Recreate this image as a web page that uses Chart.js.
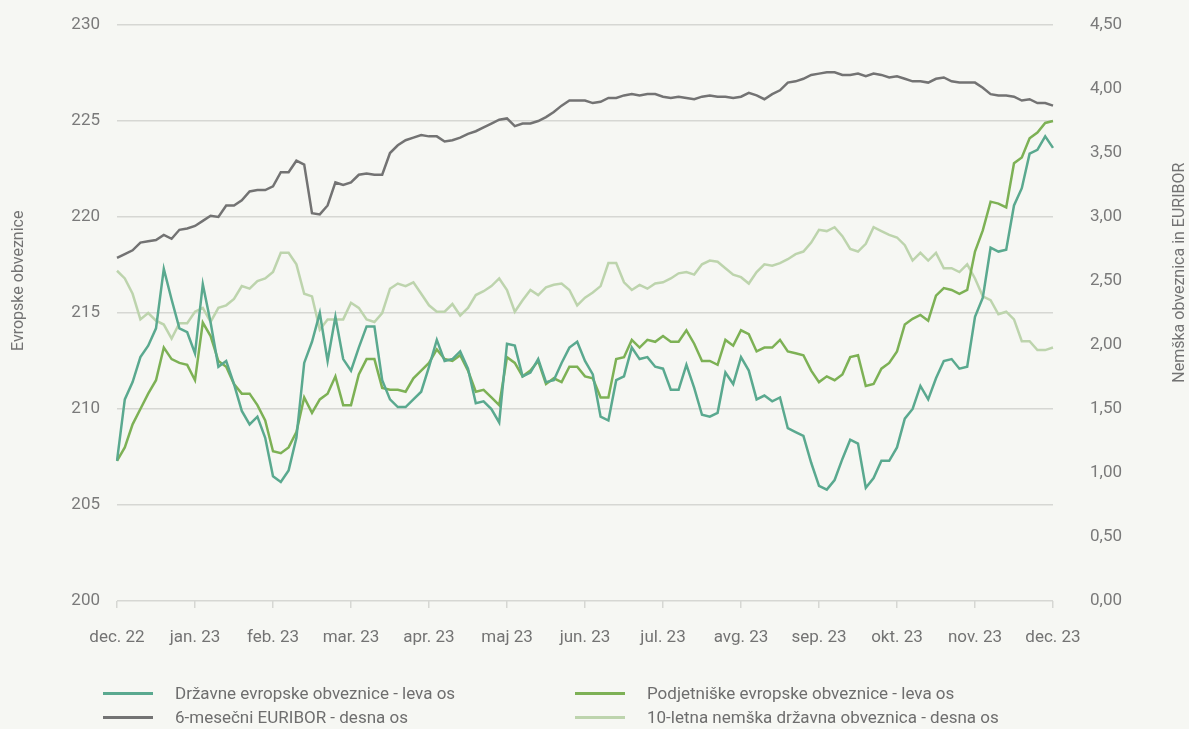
<!DOCTYPE html>
<html>
<head>
<meta charset="utf-8">
<script src="https://cdn.jsdelivr.net/npm/chart.js@4.4.1/dist/chart.umd.min.js"></script>
<style>
  html, body { margin: 0; padding: 0; background: #f6f7f3; }
  #wrap { position: relative; width: 1189px; height: 729px; }
  #chart { position: absolute; left: 0; top: 0; }
  .item {
    position: absolute; height: 24px; display: flex; align-items: center;
    font-family: "Roboto", sans-serif; font-size: 17px; color: #6e6e6e;
    white-space: nowrap;
  }
  .item i { display: inline-block; width: 50px; height: 3px; margin-right: 22px; }
</style>
</head>
<body>
<div id="wrap">
  <canvas id="chart" width="1189" height="729"></canvas>
  <div id="legend"></div>
</div>
<script>
const months = ["dec. 22", "jan. 23", "feb. 23", "mar. 23", "apr. 23", "maj 23", "jun. 23",
  "jul. 23", "avg. 23", "sep. 23", "okt. 23", "nov. 23", "dec. 23"];
const STEP = 10; // points between month ticks

const drzavne = [207.3, 210.5, 211.4, 212.7, 213.3, 214.2, 217.3, 215.7, 214.2, 214.0,
  212.9, 216.5, 214.5, 212.2, 212.5, 211.3, 209.9, 209.2, 209.6, 208.5,
  206.5, 206.2, 206.8, 208.5, 212.4, 213.5, 215.0, 212.5, 214.8, 212.6,
  212.0, 213.2, 214.3, 214.3, 211.5, 210.5, 210.1, 210.1, 210.5, 210.9,
  212.2, 213.6, 212.5, 212.6, 213.0, 212.1, 210.3, 210.4, 210.0, 209.3,
  213.4, 213.3, 211.7, 211.9, 212.6, 211.4, 211.5, 212.4, 213.2, 213.5,
  212.5, 211.8, 209.6, 209.4, 211.5, 211.7, 213.2, 212.6, 212.7, 212.2,
  212.1, 211.0, 211.0, 212.3, 211.1, 209.7, 209.6, 209.8, 211.9, 211.3,
  212.7, 212.0, 210.5, 210.7, 210.4, 210.6, 209.0, 208.8, 208.6, 207.2,
  206.0, 205.8, 206.3, 207.4, 208.4, 208.2, 205.9, 206.4, 207.3, 207.3,
  208.0, 209.5, 210.0, 211.2, 210.5, 211.6, 212.5, 212.6, 212.1, 212.2,
  214.8, 215.8, 218.4, 218.2, 218.3, 220.6, 221.5, 223.3, 223.5, 224.2,
  223.6];

const podjetniske = [207.3, 208.0, 209.2, 210.0, 210.8, 211.5, 213.2, 212.6, 212.4, 212.3,
  211.5, 214.5, 213.8, 212.5, 212.2, 211.3, 210.8, 210.8, 210.2, 209.4,
  207.8, 207.7, 208.0, 208.8, 210.6, 209.8, 210.5, 210.8, 211.7, 210.2,
  210.2, 211.8, 212.6, 212.6, 211.1, 211.0, 211.0, 210.9, 211.6, 212.0,
  212.4, 213.1, 212.6, 212.5, 212.8, 212.0, 210.9, 211.0, 210.6, 210.2,
  212.7, 212.4, 211.7, 212.0, 212.5, 211.3, 211.6, 211.4, 212.2, 212.2,
  211.7, 211.6, 210.6, 210.6, 212.6, 212.7, 213.6, 213.2, 213.6, 213.5,
  213.8, 213.5, 213.5, 214.1, 213.4, 212.5, 212.5, 212.3, 213.6, 213.3,
  214.1, 213.9, 213.0, 213.2, 213.2, 213.6, 213.0, 212.9, 212.8, 212.0,
  211.4, 211.7, 211.5, 211.8, 212.7, 212.8, 211.2, 211.3, 212.1, 212.4,
  213.0, 214.4, 214.7, 214.9, 214.6, 215.9, 216.3, 216.2, 216.0, 216.2,
  218.2, 219.3, 220.8, 220.7, 220.5, 222.8, 223.1, 224.1, 224.4, 224.9,
  225.0];

const euribor = [2.68, 2.71, 2.74, 2.80, 2.81, 2.82, 2.86, 2.83, 2.90, 2.91,
  2.93, 2.97, 3.01, 3.00, 3.09, 3.09, 3.13, 3.20, 3.21, 3.21,
  3.24, 3.35, 3.35, 3.44, 3.41, 3.03, 3.02, 3.09, 3.27, 3.25,
  3.27, 3.33, 3.34, 3.33, 3.33, 3.50, 3.56, 3.60, 3.62, 3.64,
  3.63, 3.63, 3.59, 3.60, 3.62, 3.65, 3.67, 3.70, 3.73, 3.76,
  3.77, 3.71, 3.73, 3.73, 3.75, 3.78, 3.82, 3.87, 3.91, 3.91,
  3.91, 3.89, 3.90, 3.93, 3.93, 3.95, 3.96, 3.95, 3.96, 3.96,
  3.94, 3.93, 3.94, 3.93, 3.92, 3.94, 3.95, 3.94, 3.94, 3.93,
  3.94, 3.97, 3.95, 3.92, 3.96, 3.99, 4.05, 4.06, 4.08, 4.11,
  4.12, 4.13, 4.13, 4.11, 4.11, 4.12, 4.10, 4.12, 4.11, 4.09,
  4.10, 4.08, 4.06, 4.06, 4.05, 4.08, 4.09, 4.06, 4.05, 4.05,
  4.05, 4.01, 3.96, 3.95, 3.95, 3.94, 3.91, 3.92, 3.89, 3.89,
  3.87];

const bund10 = [2.58, 2.52, 2.40, 2.20, 2.25, 2.19, 2.16, 2.05, 2.17, 2.17,
  2.26, 2.29, 2.18, 2.29, 2.31, 2.36, 2.46, 2.44, 2.50, 2.52,
  2.57, 2.72, 2.72, 2.63, 2.40, 2.38, 2.12, 2.20, 2.20, 2.20,
  2.33, 2.29, 2.20, 2.18, 2.25, 2.44, 2.48, 2.46, 2.49, 2.40,
  2.31, 2.26, 2.26, 2.32, 2.23, 2.29, 2.39, 2.42, 2.46, 2.52,
  2.43, 2.26, 2.35, 2.43, 2.39, 2.45, 2.47, 2.48, 2.43, 2.31,
  2.37, 2.41, 2.46, 2.64, 2.64, 2.49, 2.43, 2.47, 2.44, 2.48,
  2.49, 2.52, 2.56, 2.57, 2.55, 2.63, 2.66, 2.65, 2.60, 2.55,
  2.53, 2.48, 2.57, 2.63, 2.62, 2.64, 2.67, 2.71, 2.73, 2.80,
  2.90, 2.89, 2.92, 2.85, 2.75, 2.73, 2.79, 2.92, 2.89, 2.86,
  2.84, 2.78, 2.66, 2.72, 2.66, 2.72, 2.60, 2.60, 2.57, 2.63,
  2.52, 2.38, 2.35, 2.24, 2.26, 2.20, 2.03, 2.03, 1.96, 1.96,
  1.98];

const seriesNames = ["Državne evropske obveznice - leva os", "Podjetniške evropske obveznice - leva os",
  "6-mesečni EURIBOR - desna os", "10-letna nemška državna obveznica - desna os"];
const seriesColors = ["#5aa98f", "#7db155", "#737373", "#bdd4ad"];
const leftTitle = "Evropske obveznice";
const rightTitle = "Nemška obveznica in EURIBOR";

const labels = drzavne.map((v, i) => (i % STEP === 0 ? months[i / STEP] : ""));
const TEXT = "#737373";
const GRID = "#d6d7d3";
const FONT = "Roboto";

function makeSet(i, data, axis) {
  return {
    label: seriesNames[i],
    data: data,
    yAxisID: axis,
    borderColor: seriesColors[i],
    borderWidth: 2.5,
    pointRadius: 0,
    tension: 0,
    fill: false,
  };
}

// keep the tick padding from pushing the plot area down
function fixY(width) {
  return (s) => {
    s.width = width;
    s.paddingTop = 10;
    s.paddingBottom = 10;
  };
}

const axisTitles = {
  id: "axisTitles",
  afterDraw(chart) {
    const { ctx, chartArea } = chart;
    ctx.save();
    ctx.font = "16px " + FONT;
    ctx.fillStyle = TEXT;
    ctx.textAlign = "center";
    ctx.textBaseline = "middle";
    [[19, 0.444, leftTitle], [1180, 0.43, rightTitle]].forEach(([x, f, t]) => {
      ctx.save();
      ctx.translate(x, chartArea.top + chartArea.height * f);
      ctx.rotate(-Math.PI / 2);
      ctx.fillText(t, 0, 0);
      ctx.restore();
    });
    ctx.restore();
  },
};

new Chart(document.getElementById("chart").getContext("2d"), {
  type: "line",
  data: {
    labels: labels,
    datasets: [
      makeSet(0, drzavne, "yL"),
      makeSet(1, podjetniske, "yL"),
      makeSet(2, euribor, "yR"),
      makeSet(3, bund10, "yR"),
    ],
  },
  options: {
    responsive: false,
    animation: false,
    layout: { padding: { top: 25, bottom: 68, left: 0, right: 0 } },
    plugins: { legend: { display: false }, tooltip: { enabled: false } },
    scales: {
      x: {
        grid: {
          drawOnChartArea: false,
          drawTicks: true,
          tickLength: 7,
          lineWidth: 1.5,
          color: (c) => (c.index % STEP === 0 ? GRID : "rgba(0,0,0,0)"),
        },
        border: { display: false },
        ticks: {
          autoSkip: false,
          maxRotation: 0,
          padding: 20,
          color: TEXT,
          font: { family: FONT, size: 17 },
          callback: (v, i) => labels[i],
        },
        afterFit: (s) => { s.height = 60; },
      },
      yL: {
        position: "left",
        min: 200,
        max: 230,
        ticks: { stepSize: 5, padding: 17, color: "#7a7a7a", font: { family: FONT, size: 17 } },
        grid: { color: GRID, lineWidth: 1.5, drawTicks: false },
        border: { display: false },
        afterFit: fixY(117),
      },
      yR: {
        position: "right",
        min: 0,
        max: 4.5,
        ticks: {
          stepSize: 0.5,
          padding: 37,
          color: "#7a7a7a",
          font: { family: FONT, size: 17 },
          callback: (v) => v.toFixed(2).replace(".", ","),
        },
        grid: { display: false, drawTicks: false },
        border: { display: false },
        afterFit: fixY(136),
      },
    },
  },
  plugins: [axisTitles],
});

// legend in two columns under the chart
const legendPos = [[103, 681], [575, 681], [103, 705], [575, 705]];
const legend = document.getElementById("legend");
seriesNames.forEach((name, i) => {
  const d = document.createElement("div");
  d.className = "item";
  d.style.left = legendPos[i][0] + "px";
  d.style.top = legendPos[i][1] + "px";
  d.innerHTML = '<i style="background:' + seriesColors[i] + '"></i>' + name;
  legend.appendChild(d);
});
</script>
</body>
</html>
